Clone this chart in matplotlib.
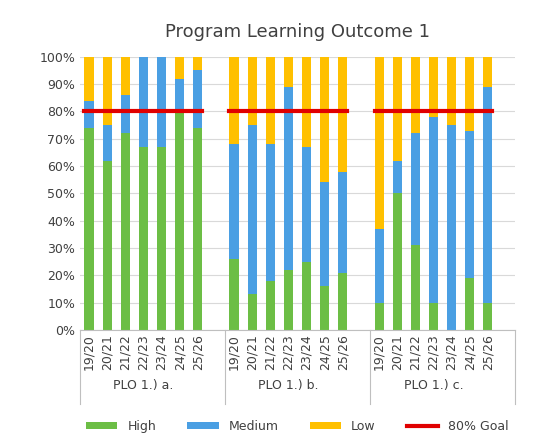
import matplotlib
matplotlib.use("Agg")
import matplotlib.pyplot as plt
import matplotlib.transforms as mtransforms
import numpy as np

years = ["19/20", "20/21", "21/22", "22/23", "23/24", "24/25", "25/26"]
groups = ["PLO 1.) a.", "PLO 1.) b.", "PLO 1.) c."]
high = [74, 62, 72, 67, 67, 80, 74,
        26, 13, 18, 22, 25, 16, 21,
        10, 50, 31, 10, 0, 19, 10]
medium = [10, 13, 14, 33, 33, 12, 21,
          42, 62, 50, 67, 42, 38, 37,
          27, 12, 41, 68, 75, 54, 79]
low = [100 - h - m for h, m in zip(high, medium)]
goal = 80

GREEN, BLUE, YELLOW = "#6CBE45", "#4A9FE3", "#FFC000"

slot = len(years) + 1
pos = np.array([g * slot + i for g in range(len(groups)) for i in range(len(years))])
h = np.array(high) / 100
m = np.array(medium) / 100
l = np.array(low) / 100

fig = plt.figure(figsize=(5.55, 4.44), dpi=100)
ax = fig.add_axes([0.144, 0.257, 0.784, 0.615])
w = 0.5
b1 = ax.bar(pos, h, w, color=GREEN, label="High", zorder=2)
b2 = ax.bar(pos, m, w, bottom=h, color=BLUE, label="Medium", zorder=2)
b3 = ax.bar(pos, l, w, bottom=h + m, color=YELLOW, label="Low", zorder=2)
goal_line = None
for g in range(len(groups)):
    x0 = g * slot - w / 2
    x1 = g * slot + len(years) - 1 + w / 2
    ln, = ax.plot([x0, x1], [goal / 100] * 2, color="#E00000", lw=3, zorder=3)
    goal_line = goal_line or ln

ax.set_xlim(-0.5, len(groups) * slot - 0.5)
ax.set_ylim(0, 1)
ax.set_yticks(np.arange(0, 1.01, 0.1))
ax.set_yticklabels([f"{int(v * 100)}%" for v in np.arange(0, 1.01, 0.1)], fontsize=9, color="#404040")
ax.yaxis.grid(True, color="#D9D9D9", lw=0.8, zorder=0)
for s in ["top", "right", "left"]:
    ax.spines[s].set_visible(False)
ax.spines["bottom"].set_color("#BFBFBF")
ax.tick_params(axis="y", length=0)
ax.set_xticks(pos)
ax.set_xticklabels(years * len(groups), rotation=90, fontsize=9, color="#404040")
ax.tick_params(axis="x", length=0, pad=3)

trans = mtransforms.blended_transform_factory(ax.transData, ax.transAxes)
for g in range(len(groups) + 1):
    xs = g * slot - 0.5
    ax.plot([xs, xs], [0, -0.27], color="#BFBFBF", lw=0.8, transform=trans, clip_on=False)
for g, name in enumerate(groups):
    ax.text(g * slot + (len(years) - 1) / 2, -0.205, name, transform=trans,
            ha="center", va="center", fontsize=9, color="#404040")

ax.set_title("Program Learning Outcome 1", fontsize=13, color="#404040", pad=14)
ax.legend([b1, b2, b3, goal_line], ["High", "Medium", "Low", "80% Goal"],
          loc="upper center", bbox_to_anchor=(0.5, -0.29), ncol=4, frameon=False,
          fontsize=9, handlelength=2.5, handleheight=0.5, columnspacing=2.5,
          labelcolor="#404040")

fig.savefig("out.png", dpi=100)
